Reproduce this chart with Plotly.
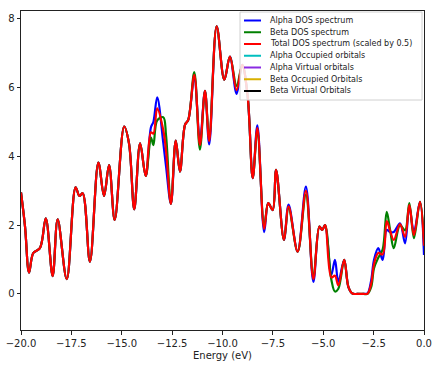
import plotly.graph_objects as go

# ---- data ----
energy = [-20.0, -19.8, -19.6, -19.39, -19.06, -18.77, -18.43, -18.18, -17.73, -17.29,
          -17.1, -16.94, -16.58, -16.16, -15.88, -15.63, -15.35, -14.88, -14.64, -14.38,
          -14.09, -13.81, -13.55, -13.43, -13.24, -12.94, -12.8, -12.56, -12.32, -12.11,
          -11.86, -11.7, -11.4, -11.12, -10.87, -10.66, -10.29, -9.91, -9.63, -9.3,
          -9.02, -8.75, -8.5, -8.27, -7.93, -7.73, -7.51, -7.34, -6.95, -6.72,
          -6.27, -5.86, -5.49, -5.19, -5.05, -4.91, -4.6, -4.42, -4.25, -3.96,
          -3.75, -3.55, -3.3, -3.0, -2.8, -2.62, -2.48, -2.27, -2.05, -1.85,
          -1.68, -1.5, -1.19, -0.94, -0.73, -0.5, -0.2, 0.0]

alpha_dos = [2.95, 1.96, 0.62, 1.19, 1.33, 2.2, 0.52, 2.17, 0.43, 3.1,
             2.85, 2.93, 0.94, 3.82, 2.85, 3.75, 2.15, 4.87, 4.38, 2.46,
             4.38, 3.43, 4.85, 5.0, 5.72, 4.4, 3.7, 2.62, 4.46, 3.56,
             4.92, 5.06, 6.3, 4.45, 5.91, 4.35, 7.78, 6.23, 6.9, 5.82,
             6.66, 5.74, 3.37, 4.9, 1.8, 2.64, 2.44, 3.61, 1.57, 2.6,
             1.23, 3.12, 0.35, 1.96, 1.86, 2.0, 0.55, 0.99, 0.35, 0.99,
             0.2, 0.01, 0.0, 0.0, 0.02, 0.4, 0.99, 1.33, 0.99, 1.86,
             1.8, 1.8, 2.05, 1.47, 2.54, 1.8, 2.68, 1.13]

beta_dos = [2.95, 1.96, 0.62, 1.19, 1.33, 2.2, 0.52, 2.17, 0.43, 3.1,
            2.85, 2.93, 0.94, 3.82, 2.85, 3.75, 2.15, 4.87, 4.38, 2.46,
            4.38, 3.43, 4.55, 4.33, 5.05, 5.14, 4.6, 2.62, 4.46, 3.56,
            4.92, 5.06, 6.45, 4.2, 5.91, 4.55, 7.78, 6.23, 6.9, 6.05,
            6.66, 5.74, 3.37, 4.74, 1.98, 2.64, 2.44, 3.61, 1.57, 2.5,
            1.23, 2.88, 0.5, 1.96, 1.86, 2.0, 0.42, 0.07, 0.15, 0.99,
            0.2, 0.01, 0.0, 0.0, 0.0, 0.2, 0.75, 1.05, 1.3, 2.39,
            1.85, 1.33, 2.0, 1.85, 2.64, 1.62, 2.68, 1.6]

total_dos = [2.95, 1.96, 0.62, 1.19, 1.33, 2.2, 0.52, 2.17, 0.43, 3.1,
             2.85, 2.93, 0.94, 3.82, 2.85, 3.75, 2.15, 4.87, 4.38, 2.46,
             4.38, 3.43, 4.7, 4.66, 5.4, 4.77, 4.15, 2.62, 4.46, 3.56,
             4.92, 5.06, 6.37, 4.33, 5.91, 4.45, 7.78, 6.23, 6.9, 5.93,
             6.66, 5.74, 3.37, 4.82, 1.89, 2.64, 2.44, 3.61, 1.57, 2.55,
             1.23, 3.0, 0.43, 1.96, 1.86, 2.0, 0.48, 0.53, 0.25, 0.99,
             0.2, 0.01, 0.0, 0.0, 0.01, 0.3, 0.87, 1.19, 1.15, 2.12,
             1.83, 1.57, 2.03, 1.66, 2.59, 1.71, 2.68, 1.4]

x_ticks = [-20.0, -17.5, -15.0, -12.5, -10.0, -7.5, -5.0, -2.5, 0.0]
y_ticks = [0, 2, 4, 6, 8]

legend_labels = ["Alpha DOS spectrum", "Beta DOS spectrum", "Total DOS spectrum (scaled by 0.5)",
                 "Alpha Occupied orbitals", "Alpha Virtual orbitals",
                 "Beta Occupied Orbitals", "Beta Virtual Orbitals"]
legend_colors = ["#0000ff", "#008000", "#ff0000", "#00bfbf", "#8a2be2", "#d9b000", "#000000"]

# ---- figure ----
W, H = 438, 369
L, R, T, B = 21, 424, 11, 330  # plot area in pixels

fig = go.Figure()
for ys, col in [(alpha_dos, legend_colors[0]), (beta_dos, legend_colors[1]), (total_dos, legend_colors[2])]:
    fig.add_trace(go.Scatter(x=energy, y=ys, mode="lines",
                             line=dict(color=col, width=2.2, shape="spline", smoothing=1.0),
                             showlegend=False, hoverinfo="skip"))


def px_x(p):
    return (p - L) / (R - L)


def px_y(p):
    return (B - p) / (B - T)


# manual legend (matplotlib style, compact)
shapes = [dict(type="rect", xref="paper", yref="paper",
               x0=px_x(240), x1=px_x(422), y0=px_y(100), y1=px_y(12),
               line=dict(color="#d0d0d0", width=1), fillcolor="rgba(255,255,255,0.85)",
               layer="above")]
annotations = []
for i, (lab, col) in enumerate(zip(legend_labels, legend_colors)):
    yc = 20.5 + 11.75 * i
    shapes.append(dict(type="line", xref="paper", yref="paper",
                       x0=px_x(244), x1=px_x(261), y0=px_y(yc), y1=px_y(yc),
                       line=dict(color=col, width=2), layer="above"))
    annotations.append(dict(xref="paper", yref="paper", x=px_x(268), y=px_y(yc),
                            text=lab, showarrow=False, xanchor="left", yanchor="middle",
                            font=dict(family="DejaVu Sans", size=8, color="#222")))

fig.update_layout(
    template="none",
    width=W, height=H,
    margin=dict(l=L, r=W - R, t=T, b=H - B, pad=0),
    paper_bgcolor="white", plot_bgcolor="white",
    font=dict(family="DejaVu Sans", size=10, color="#222"),
    shapes=shapes, annotations=annotations,
    showlegend=False,
)
fig.update_xaxes(range=[-20, 0], tickvals=x_ticks, tickformat=".1f", automargin=False,
                 showgrid=False, zeroline=False, showline=True, linecolor="#222", linewidth=1,
                 mirror=True, ticks="outside", ticklen=3.5, tickwidth=1, tickcolor="#222",
                 title=dict(text="Energy (eV)", standoff=4, font=dict(size=10)))
fig.update_yaxes(range=[-1.05, 8.23], tickvals=y_ticks, automargin=False,
                 showgrid=False, zeroline=False, showline=True, linecolor="#222", linewidth=1,
                 mirror=True, ticks="outside", ticklen=3.5, tickwidth=1, tickcolor="#222")

fig.write_html("out.html",
               config={"displayModeBar": False, "staticPlot": True},
               post_script="document.body.style.margin='0';document.body.style.padding='0';"
                           "document.documentElement.style.overflow='hidden';")
